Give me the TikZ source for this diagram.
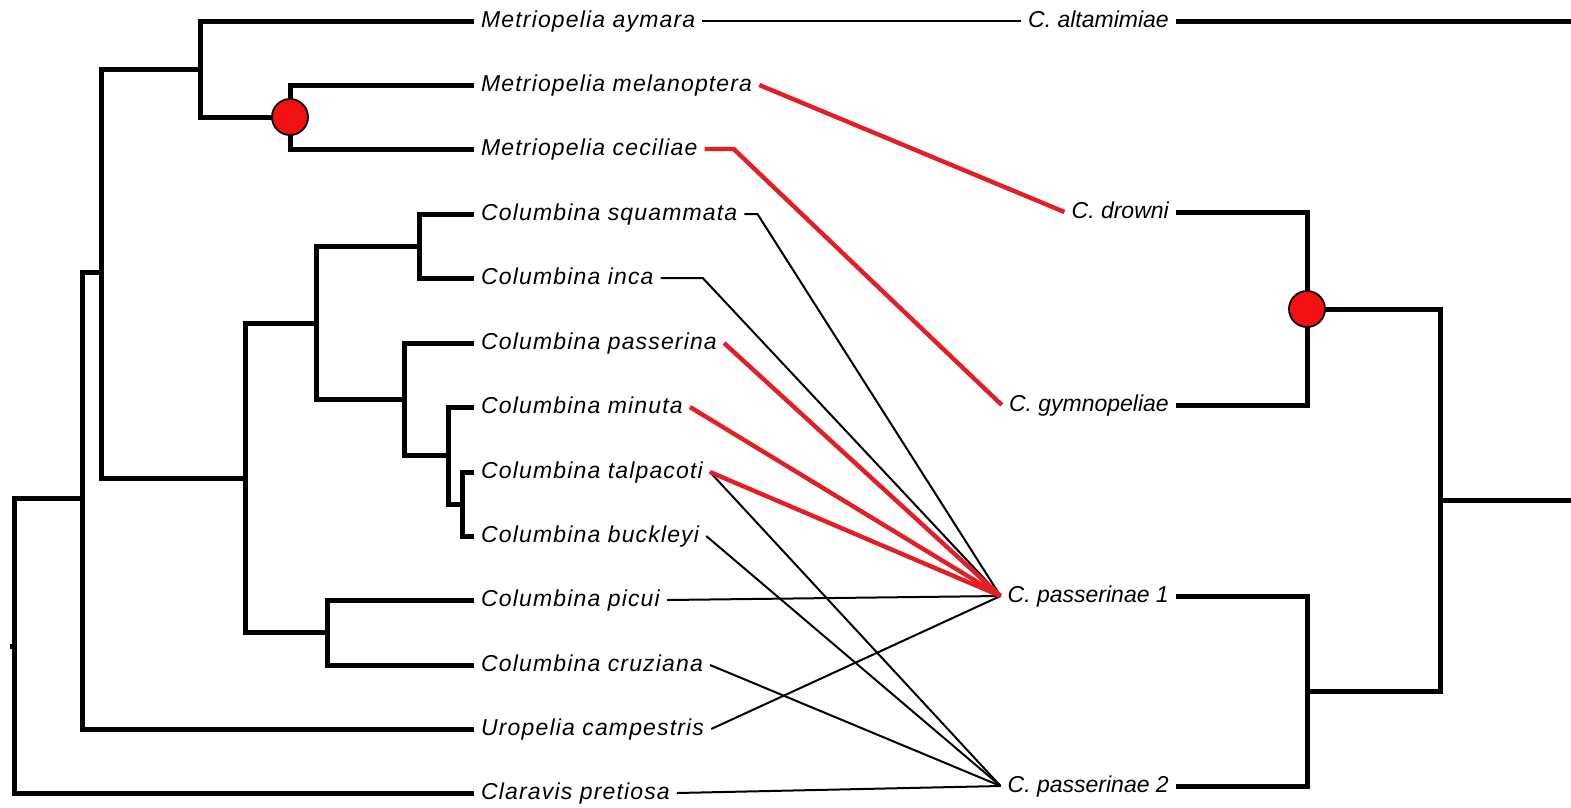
\documentclass[tikz,border=0pt]{standalone}
\usepackage{fontspec}
\setmainfont{Liberation Sans}[LetterSpace=5.0]
\newfontfamily\parafont{Liberation Sans}
\usepackage{tikz}
\usetikzlibrary{calc}
\usepackage{xcolor}
\definecolor{lr}{HTML}{E41E26}
\definecolor{nr}{HTML}{F21010}

\begin{document}
\begin{tikzpicture}[x=1pt,y=-1pt,
    taxon/.style={inner xsep=7pt,inner ysep=0pt,text height=17pt,text depth=5pt,font=\fontsize{23}{26}\selectfont\itshape},
    host/.style={taxon,anchor=west},
    para/.style={taxon,anchor=east,font=\parafont\fontsize{23}{26}\selectfont\itshape},
    branch/.style={line width=5pt,line join=miter},
    hlink/.style={line width=2pt},
    rlink/.style={line width=4.4pt,draw=lr},
    dup/.style={circle,fill=nr,draw=black,line width=1.8pt,minimum size=36pt,inner sep=0pt},
  ]
  \useasboundingbox (0,0) rectangle (1571,807);
  % host tree tips
  \node[host] (maym) at (474, 21)  {Metriopelia aymara};
  \node[host] (mmel) at (474, 85)  {Metriopelia melanoptera};
  \node[host] (mcec) at (474, 149) {Metriopelia ceciliae};
  \node[host] (csqu) at (474, 214) {Columbina squammata};
  \node[host] (cinc) at (474, 278) {Columbina inca};
  \node[host] (cpas) at (474, 343) {Columbina passerina};
  \node[host] (cmin) at (474, 407) {Columbina minuta};
  \node[host] (ctal) at (474, 472) {Columbina talpacoti};
  \node[host] (cbuc) at (474, 536) {Columbina buckleyi};
  \node[host] (cpic) at (474, 600) {Columbina picui};
  \node[host] (ccru) at (474, 665) {Columbina cruziana};
  \node[host] (ucam) at (474, 729) {Uropelia campestris};
  \node[host] (cpre) at (474, 793) {Claravis pretiosa};
  % parasite tree tips
  \node[para] (calt) at (1176, 21)  {C. altamimiae};
  \node[para] (cdro) at (1176, 212) {C. drowni};
  \node[para] (cgym) at (1176, 405) {C. gymnopeliae};
  \node[para] (cpa1) at (1176, 596) {C. passerinae 1};
  \node[para] (cpa2) at (1176, 786) {C. passerinae 2};

  % host tree
  \draw[branch] (10,646) -- (14,646);
  \draw[branch] (cpre.west) -| (14,498) -- (82,498);
  \draw[branch] (ucam.west) -| (82,272) -- (101,272);
  \draw[branch] (200,69) -| (101,478) -- (245,478);
  \draw[branch] (maym.west) -| (200,117) -- (290,117);
  \draw[branch] (mmel.west) -| (290,149) -- (mcec.west);
  \draw[branch] (316,323) -| (245,632) -- (327,632);
  \draw[branch] (419,246) -| (316,399) -- (404,399);
  \draw[branch] (csqu.west) -| (419,278) -- (cinc.west);
  \draw[branch] (cpas.west) -| (404,455) -- (448,455);
  \draw[branch] (cmin.west) -| (448,504) -- (462,504);
  \draw[branch] (ctal.west) -| (462,536) -- (cbuc.west);
  \draw[branch] (cpic.west) -| (327,665) -- (ccru.west);
  \node[dup] (hdup) at (290,117) {};

  % parasite tree
  \draw[branch] (calt.east) -- (1571,21);
  \draw[branch] (cdro.east) -| (1307,405) -- (cgym.east);
  \draw[branch] (cpa1.east) -| (1307,786) -- (cpa2.east);
  \draw[branch] (1307,309) -| (1440,691) -- (1307,691);
  \draw[branch] (1440,500) -- (1571,500);
  \node[dup] (pdup) at (1307,309) {};

  % associations
  \draw[hlink] (maym.east) -- (calt.west);
  \draw[hlink] (csqu.east) -- ++(13,0) -- (cpa1.west);
  \draw[hlink] (cinc.east) -- ++(42,0) -- (cpa1.west);
  \draw[hlink] (ctal.east) -- (cpa2.west);
  \draw[hlink] (cbuc.east) -- (cpa2.west);
  \draw[hlink] (cpic.east) -- (cpa1.west);
  \draw[hlink] (ccru.east) -- (cpa2.west);
  \draw[hlink] (ucam.east) -- (cpa1.west);
  \draw[hlink] (cpre.east) -- (cpa2.west);
  \draw[rlink] (mmel.east) -- (cdro.west);
  \draw[rlink] (mcec.east) -- ++(29,0) -- (cgym.west);
  \draw[rlink] (cpas.east) -- (cpa1.west);
  \draw[rlink] (cmin.east) -- (cpa1.west);
  \draw[rlink] (ctal.east) -- (cpa1.west);
\end{tikzpicture}
\end{document}
